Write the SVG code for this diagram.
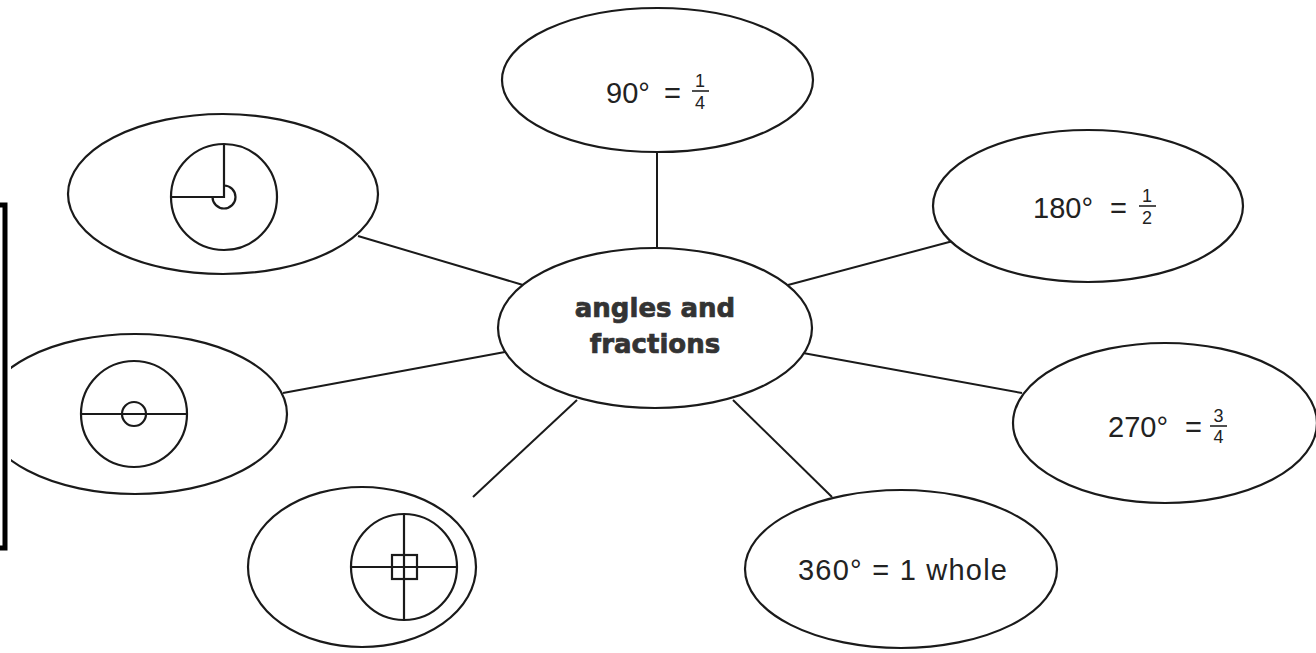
<svg xmlns="http://www.w3.org/2000/svg" width="1316" height="653" viewBox="0 0 1316 653">
<style>
.node{fill:#fff;stroke:#1a1a1a;stroke-width:2.2}
.pic{fill:none;stroke:#1a1a1a;stroke-width:2.2}
.conn line{stroke:#1a1a1a;stroke-width:2}
.lbl{font-family:"Liberation Sans",Arial,sans-serif;font-size:29px;fill:#222}
.frac{font-family:"Liberation Sans",Arial,sans-serif;font-size:18px;fill:#222;text-anchor:middle}
.bar{stroke:#222;stroke-width:1.6}
.title{font-family:"DejaVu Sans",sans-serif;font-weight:bold;font-size:26px;fill:#333;stroke:#333;stroke-width:0.7;text-anchor:middle}
</style>
<rect width="1316" height="653" fill="#fff"/>
<g id="connectors" class="conn">
<line x1="657" y1="152" x2="657" y2="249"/>
<line x1="358" y1="236" x2="523" y2="285"/>
<line x1="283" y1="393" x2="505" y2="352"/>
<line x1="473" y1="497" x2="577" y2="400"/>
<line x1="788" y1="285" x2="953" y2="241"/>
<line x1="803" y1="353" x2="1022" y2="393"/>
<line x1="733" y1="400" x2="832" y2="497"/>
</g>
<g id="center">
<ellipse class="node" cx="655" cy="328" rx="157" ry="80"/>
<text class="title" x="655" y="317">angles and</text>
<text class="title" x="655" y="353">fractions</text>
</g>
<g id="n90">
<ellipse class="node" cx="657.5" cy="80" rx="155.5" ry="72"/>
<text class="lbl" x="606" y="103">90°</text>
<text class="lbl" x="664" y="103">=</text>
<text class="frac" x="700" y="87">1</text>
<line class="bar" x1="692" y1="91" x2="709" y2="91"/>
<text class="frac" x="700" y="109">4</text>
</g>
<g id="n180">
<ellipse class="node" cx="1088" cy="206" rx="155" ry="76"/>
<text class="lbl" x="1033" y="218">180°</text>
<text class="lbl" x="1110" y="218">=</text>
<text class="frac" x="1147" y="202">1</text>
<line class="bar" x1="1139" y1="206" x2="1156" y2="206"/>
<text class="frac" x="1147" y="224">2</text>
</g>
<g id="n270">
<ellipse class="node" cx="1165" cy="423" rx="152" ry="80"/>
<text class="lbl" x="1108" y="437">270°</text>
<text class="lbl" x="1185" y="437">=</text>
<text class="frac" x="1218.5" y="422">3</text>
<line class="bar" x1="1210" y1="426" x2="1227" y2="426"/>
<text class="frac" x="1218.5" y="443">4</text>
</g>
<g id="n360">
<ellipse class="node" cx="901" cy="569" rx="156" ry="79"/>
<text class="lbl" x="798" y="580" textLength="209" lengthAdjust="spacing">360° = 1 whole</text>
</g>
<g id="quarter">
<ellipse class="node" cx="223" cy="194" rx="155" ry="80"/>
<circle class="pic" cx="224" cy="197" r="53"/>
<path class="pic" d="M224,144 V197 H171"/>
<path class="pic" d="M224,185.5 A11.5,11.5 0 1 1 212.5,197"/>
</g>
<g id="half">
<ellipse class="node" cx="135" cy="414" rx="152" ry="80"/>
<circle class="pic" cx="134" cy="414" r="53"/>
<line class="pic" x1="81" y1="414" x2="187" y2="414"/>
<circle class="pic" cx="134" cy="414" r="12"/>
</g>
<g id="whole">
<ellipse class="node" cx="362" cy="567" rx="114" ry="80"/>
<circle class="pic" cx="404" cy="567" r="53"/>
<line class="pic" x1="404" y1="514" x2="404" y2="620"/>
<line class="pic" x1="351" y1="567" x2="457" y2="567"/>
<rect class="pic" x="392" y="555" width="25" height="24"/>
</g>
<rect x="0" y="200" width="11" height="352" fill="#fff"/>
<path d="M0,205 H5 V548 H0" fill="none" stroke="#000" stroke-width="5"/>
</svg>
